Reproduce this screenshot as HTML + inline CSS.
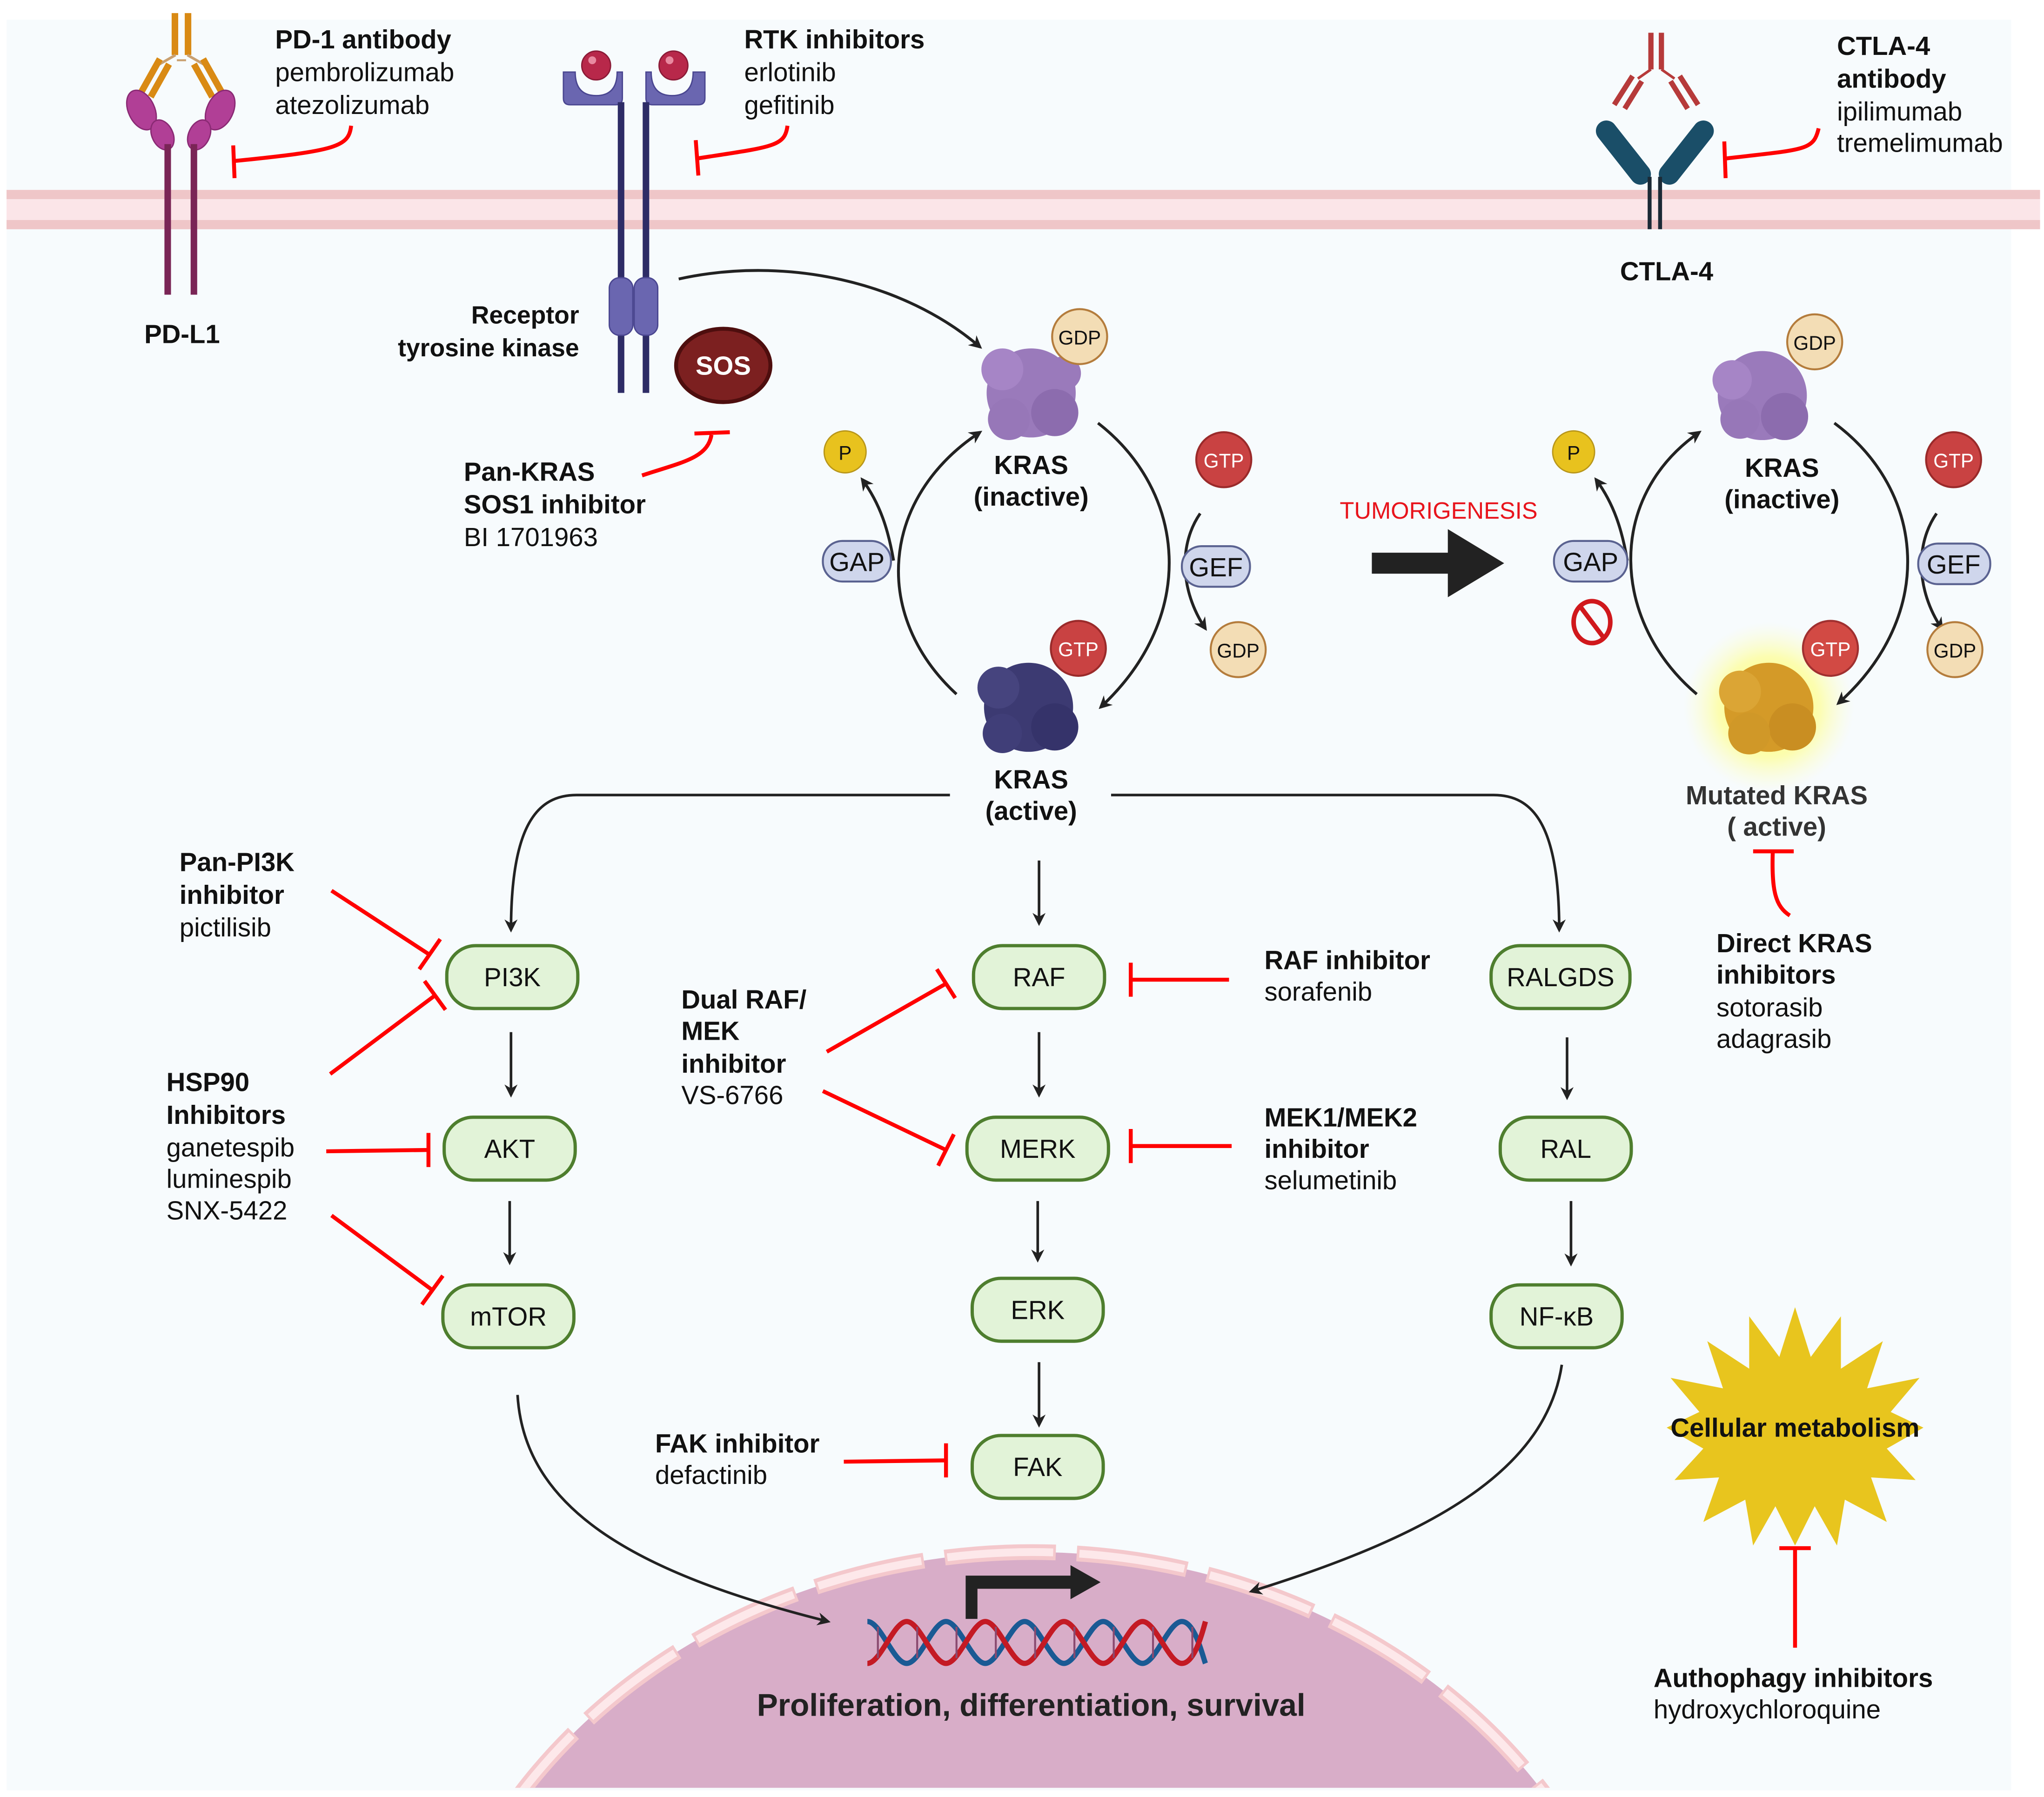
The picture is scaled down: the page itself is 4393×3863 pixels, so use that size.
<!DOCTYPE html>
<html><head><meta charset="utf-8"><style>
html,body{margin:0;padding:0;background:#fff;width:4393px;height:3863px;overflow:hidden;}
svg{display:block;}
text{font-family:"Liberation Sans",sans-serif;fill:#111;}
.b{font-weight:bold;}
</style></head><body>
<svg width="4393" height="3863" viewBox="0 0 1560 1372" preserveAspectRatio="none" xmlns="http://www.w3.org/2000/svg">
<defs>
<marker id="ah" markerWidth="10" markerHeight="10" refX="8" refY="5" orient="auto" markerUnits="userSpaceOnUse">
<path d="M0,0 L10,5 L0,10 L3,5 Z" fill="#222"/></marker>
<radialGradient id="glow"><stop offset="0" stop-color="#ffff40" stop-opacity="1"/><stop offset="0.6" stop-color="#ffff80" stop-opacity="0.6"/><stop offset="1" stop-color="#ffffc0" stop-opacity="0"/></radialGradient>
<clipPath id="nc"><rect x="0" y="0" width="1560" height="1365"/></clipPath>
</defs>
<rect x="0" y="0" width="1560" height="1372" fill="#fff"/>
<rect x="5" y="15" width="1530" height="1352" fill="#f7fbfd"/>
<rect x="5" y="145" width="1552" height="30" fill="#fbe5e8"/>
<rect x="5" y="145" width="1552" height="7" fill="#efc6c8"/>
<rect x="5" y="168" width="1552" height="7" fill="#efc6c8"/>

<g>
<rect x="131" y="10" width="5" height="32" fill="#d98a14"/><rect x="141" y="10" width="5" height="32" fill="#d98a14"/>
<line x1="134" y1="42" x2="120" y2="50" stroke="#c9a070" stroke-width="2"/><line x1="143" y1="42" x2="157" y2="50" stroke="#c9a070" stroke-width="2"/>
<line x1="135" y1="46" x2="142" y2="46" stroke="#c9a070" stroke-width="1.5"/>
<line x1="122" y1="45" x2="108" y2="70" stroke="#d98a14" stroke-width="5"/><line x1="129" y1="49" x2="115" y2="74" stroke="#d98a14" stroke-width="5"/>
<line x1="155" y1="45" x2="169" y2="70" stroke="#d98a14" stroke-width="5"/><line x1="148" y1="49" x2="162" y2="74" stroke="#d98a14" stroke-width="5"/>
<ellipse cx="108" cy="84" rx="10" ry="16" transform="rotate(-25 108 84)" fill="#b13f96" stroke="#8a2a74"/>
<ellipse cx="168" cy="84" rx="10" ry="16" transform="rotate(25 168 84)" fill="#b13f96" stroke="#8a2a74"/>
<ellipse cx="124" cy="103" rx="8" ry="12" transform="rotate(-25 124 103)" fill="#b13f96" stroke="#8a2a74"/>
<ellipse cx="152" cy="103" rx="8" ry="12" transform="rotate(25 152 103)" fill="#b13f96" stroke="#8a2a74"/>
<line x1="128" y1="110" x2="128" y2="225" stroke="#7a2556" stroke-width="5"/>
<line x1="148" y1="110" x2="148" y2="225" stroke="#7a2556" stroke-width="5"/>
</g>
<text x="139" y="262" text-anchor="middle" class="b" font-size="20">PD-L1</text>
<text x="210" y="37" class="b" font-size="20">PD-1 antibody</text>
<text x="210" y="62" font-size="20">pembrolizumab</text>
<text x="210" y="87" font-size="20">atezolizumab</text>
<path d="M268,96 C266,112 258,115 178,123" stroke="#f00" stroke-width="3" fill="none"/>
<line x1="178" y1="111" x2="179" y2="136" stroke="#f00" stroke-width="3"/>

<g>
<path d="M430,55 h9 q0,18 16,18 q16,0 16,-18 h4 v20 q0,5 -5,5 h-35 q-5,0 -5,-5 z" fill="#6a66b0" stroke="#4a4690"/>
<path d="M493,55 h4 q0,18 16,18 q16,0 16,-18 h9 v20 q0,5 -5,5 h-35 q-5,0 -5,-5 z" fill="#6a66b0" stroke="#4a4690"/>
<circle cx="455" cy="50" r="11" fill="#b8284a" stroke="#8a1a36"/><circle cx="452" cy="46" r="3" fill="#e88aa0"/>
<circle cx="514" cy="50" r="11" fill="#b8284a" stroke="#8a1a36"/><circle cx="511" cy="46" r="3" fill="#e88aa0"/>
<line x1="474" y1="78" x2="474" y2="300" stroke="#2e2c66" stroke-width="5"/>
<line x1="493" y1="78" x2="493" y2="300" stroke="#2e2c66" stroke-width="5"/>
<rect x="465" y="212" width="18" height="44" rx="8" fill="#6a66b0" stroke="#4a4690"/>
<rect x="484" y="212" width="18" height="44" rx="8" fill="#6a66b0" stroke="#4a4690"/>
</g>
<text x="442" y="247" text-anchor="end" class="b" font-size="19" fill="#222">Receptor</text>
<text x="442" y="272" text-anchor="end" class="b" font-size="19" fill="#222">tyrosine kinase</text>
<ellipse cx="552" cy="279" rx="36" ry="28" fill="#7c2020" stroke="#4e0e0e" stroke-width="3"/>
<text x="552" y="286" text-anchor="middle" class="b" font-size="20" style="fill:#fff">SOS</text>
<text x="568" y="37" class="b" font-size="20">RTK inhibitors</text>
<text x="568" y="62" font-size="20">erlotinib</text>
<text x="568" y="87" font-size="20">gefitinib</text>
<path d="M601,96 C599,112 590,112 532,121" stroke="#f00" stroke-width="3" fill="none"/>
<line x1="531" y1="107" x2="533" y2="134" stroke="#f00" stroke-width="3"/>
<path d="M490,363 C520,353 540,350 543,332" stroke="#f00" stroke-width="3" fill="none"/>
<line x1="530" y1="331" x2="557" y2="330" stroke="#f00" stroke-width="3"/>
<text x="354" y="367" class="b" font-size="20">Pan-KRAS</text>
<text x="354" y="392" class="b" font-size="20">SOS1 inhibitor</text>
<text x="354" y="417" font-size="20">BI 1701963</text>
<path d="M518,213 C600,195 690,215 748,265" stroke="#222" stroke-width="2.2" fill="none" marker-end="url(#ah)"/>

<g>
<circle cx="787" cy="300" r="34" fill="#9a7abb"/>
<circle cx="765" cy="282" r="16" fill="#a685c6"/><circle cx="805" cy="315" r="18" fill="#8c6cae"/><circle cx="770" cy="320" r="16" fill="#9777b8"/><circle cx="812" cy="285" r="13" fill="#9a7abb"/>
<circle cx="824" cy="257" r="21" fill="#f3ddb5" stroke="#b47c3c" stroke-width="1.5"/>
<text x="824" y="263" text-anchor="middle" font-size="15">GDP</text>
</g>
<text x="787" y="362" text-anchor="middle" class="b" font-size="20" fill="#222">KRAS</text>
<text x="787" y="386" text-anchor="middle" class="b" font-size="20" fill="#222">(inactive)</text>
<path d="M730,530 C665,470 672,380 748,330" stroke="#222" stroke-width="2.2" fill="none" marker-end="url(#ah)"/>
<path d="M838,323 C905,375 915,470 840,540" stroke="#222" stroke-width="2.2" fill="none" marker-end="url(#ah)"/>
<path d="M682,428 C678,405 672,385 658,366" stroke="#222" stroke-width="2.2" fill="none" marker-end="url(#ah)"/>
<circle cx="645" cy="345" r="16" fill="#e8c21e" stroke="#b8961a"/>
<text x="645" y="351" text-anchor="middle" font-size="15">P</text>
<rect x="628" y="413" width="52" height="31" rx="15" fill="#cfd6ec" stroke="#5a6290" stroke-width="1.5"/>
<text x="654" y="436" text-anchor="middle" font-size="20">GAP</text>
<path d="M916,392 C900,415 900,450 920,480" stroke="#222" stroke-width="2.2" fill="none" marker-end="url(#ah)"/>
<circle cx="934" cy="351" r="21" fill="#c94242" stroke="#9a2a2a" stroke-width="1.5"/>
<text x="934" y="357" text-anchor="middle" font-size="15" style="fill:#fff">GTP</text>
<rect x="902" y="417" width="52" height="31" rx="15" fill="#cfd6ec" stroke="#5a6290" stroke-width="1.5"/>
<text x="928" y="440" text-anchor="middle" font-size="20">GEF</text>
<circle cx="945" cy="496" r="21" fill="#f3ddb5" stroke="#b47c3c" stroke-width="1.5"/>
<text x="945" y="502" text-anchor="middle" font-size="15">GDP</text>
<g>
<circle cx="785" cy="540" r="34" fill="#3c3a72"/>
<circle cx="762" cy="525" r="16" fill="#46447e"/><circle cx="805" cy="555" r="18" fill="#35336a"/><circle cx="765" cy="560" r="15" fill="#403e78"/>
<circle cx="823" cy="495" r="21" fill="#c94242" stroke="#9a2a2a" stroke-width="1.5"/>
<text x="823" y="501" text-anchor="middle" font-size="15" style="fill:#fff">GTP</text>
</g>
<text x="787" y="602" text-anchor="middle" class="b" font-size="20" fill="#222">KRAS</text>
<text x="787" y="626" text-anchor="middle" class="b" font-size="20" fill="#222">(active)</text>

<text x="1098" y="396" text-anchor="middle" font-size="18" style="fill:#e8141c">TUMORIGENESIS</text>
<path d="M1047,422 h58 v-18 l43,26 l-43,26 v-18 h-58 z" fill="#222"/>

<circle cx="1350" cy="540" r="65" fill="url(#glow)"/>
<g>
<circle cx="1345" cy="302" r="34" fill="#9a7abb"/>
<circle cx="1322" cy="290" r="15" fill="#a685c6"/><circle cx="1362" cy="318" r="18" fill="#8c6cae"/><circle cx="1328" cy="320" r="15" fill="#9777b8"/>
<circle cx="1385" cy="261" r="21" fill="#f3ddb5" stroke="#b47c3c" stroke-width="1.5"/>
<text x="1385" y="267" text-anchor="middle" font-size="15">GDP</text>
</g>
<text x="1360" y="364" text-anchor="middle" class="b" font-size="20" fill="#222">KRAS</text>
<text x="1360" y="388" text-anchor="middle" class="b" font-size="20" fill="#222">(inactive)</text>
<path d="M1295,530 C1230,475 1225,380 1297,330" stroke="#222" stroke-width="2.2" fill="none" marker-end="url(#ah)"/>
<path d="M1400,323 C1470,375 1478,470 1403,537" stroke="#222" stroke-width="2.2" fill="none" marker-end="url(#ah)"/>
<path d="M1242,428 C1238,405 1232,385 1218,366" stroke="#222" stroke-width="2.2" fill="none" marker-end="url(#ah)"/>
<circle cx="1201" cy="345" r="16" fill="#e8c21e" stroke="#b8961a"/>
<text x="1201" y="351" text-anchor="middle" font-size="15">P</text>
<rect x="1186" y="413" width="56" height="31" rx="15" fill="#cfd6ec" stroke="#5a6290" stroke-width="1.5"/>
<text x="1214" y="436" text-anchor="middle" font-size="20">GAP</text>
<ellipse cx="1215" cy="475" rx="14" ry="16" fill="none" stroke="#d0181c" stroke-width="3.5"/>
<line x1="1206" y1="463" x2="1224" y2="487" stroke="#d0181c" stroke-width="3.5"/>
<path d="M1478,392 C1462,415 1462,450 1482,480" stroke="#222" stroke-width="2.2" fill="none" marker-end="url(#ah)"/>
<circle cx="1491" cy="351" r="21" fill="#c94242" stroke="#9a2a2a" stroke-width="1.5"/>
<text x="1491" y="357" text-anchor="middle" font-size="15" style="fill:#fff">GTP</text>
<rect x="1464" y="415" width="55" height="31" rx="15" fill="#cfd6ec" stroke="#5a6290" stroke-width="1.5"/>
<text x="1491" y="438" text-anchor="middle" font-size="20">GEF</text>
<circle cx="1492" cy="496" r="21" fill="#f3ddb5" stroke="#b47c3c" stroke-width="1.5"/>
<text x="1492" y="502" text-anchor="middle" font-size="15">GDP</text>
<g>
<circle cx="1350" cy="540" r="34" fill="#d49a28"/>
<circle cx="1328" cy="528" r="16" fill="#dba535"/><circle cx="1368" cy="555" r="18" fill="#c98e22"/><circle cx="1335" cy="560" r="16" fill="#d09828"/>
<circle cx="1397" cy="495" r="21" fill="#d24a44" stroke="#a03030" stroke-width="1.5"/>
<text x="1397" y="501" text-anchor="middle" font-size="15" style="fill:#fff">GTP</text>
</g>
<text x="1356" y="614" text-anchor="middle" class="b" font-size="20" style="fill:#333">Mutated KRAS</text>
<text x="1356" y="638" text-anchor="middle" class="b" font-size="20" style="fill:#333">( active)</text>
<line x1="1338" y1="650" x2="1369" y2="650" stroke="#f00" stroke-width="3"/>
<path d="M1353,650 C1352,680 1355,692 1366,699" stroke="#f00" stroke-width="3" fill="none"/>
<text x="1310" y="727" class="b" font-size="20">Direct KRAS</text>
<text x="1310" y="751" class="b" font-size="20">inhibitors</text>
<text x="1310" y="776" font-size="20">sotorasib</text>
<text x="1310" y="800" font-size="20">adagrasib</text>

<g>
<rect x="1258" y="25" width="4" height="28" fill="#b63a3a"/><rect x="1266" y="25" width="4" height="28" fill="#b63a3a"/>
<line x1="1260" y1="53" x2="1250" y2="60" stroke="#b63a3a" stroke-width="2"/><line x1="1268" y1="53" x2="1278" y2="60" stroke="#b63a3a" stroke-width="2"/>
<line x1="1246" y1="58" x2="1232" y2="80" stroke="#b63a3a" stroke-width="4"/><line x1="1253" y1="62" x2="1240" y2="83" stroke="#b63a3a" stroke-width="4"/>
<line x1="1282" y1="58" x2="1296" y2="80" stroke="#b63a3a" stroke-width="4"/><line x1="1275" y1="62" x2="1288" y2="83" stroke="#b63a3a" stroke-width="4"/>
<line x1="1226" y1="100" x2="1252" y2="133" stroke="#1a4e68" stroke-width="16" stroke-linecap="round"/>
<line x1="1300" y1="100" x2="1274" y2="133" stroke="#1a4e68" stroke-width="16" stroke-linecap="round"/>
<line x1="1259" y1="135" x2="1259" y2="175" stroke="#1b2a36" stroke-width="3"/>
<line x1="1267" y1="135" x2="1267" y2="175" stroke="#1b2a36" stroke-width="3"/>
</g>
<text x="1272" y="214" text-anchor="middle" class="b" font-size="20">CTLA-4</text>
<text x="1402" y="42" class="b" font-size="20">CTLA-4</text>
<text x="1402" y="67" class="b" font-size="20">antibody</text>
<text x="1402" y="92" font-size="20">ipilimumab</text>
<text x="1402" y="116" font-size="20">tremelimumab</text>
<path d="M1388,98 C1384,115 1378,114 1317,121" stroke="#f00" stroke-width="3" fill="none"/>
<line x1="1316" y1="108" x2="1317" y2="136" stroke="#f00" stroke-width="3"/>

<path d="M725,607 H440 C410,607 390,630 390,710" stroke="#222" stroke-width="2" fill="none" marker-end="url(#ah)"/>
<path d="M848,607 H1140 C1170,607 1190,630 1190,710" stroke="#222" stroke-width="2" fill="none" marker-end="url(#ah)"/>
<line x1="793" y1="657" x2="793" y2="705" stroke="#222" stroke-width="2" marker-end="url(#ah)"/>

<g fill="#e2f3d8" stroke="#4e7e2e" stroke-width="2.5">
<rect x="341" y="722" width="100" height="48" rx="22"/>
<rect x="339" y="853" width="100" height="48" rx="22"/>
<rect x="338" y="981" width="100" height="48" rx="22"/>
<rect x="743" y="722" width="100" height="48" rx="22"/>
<rect x="738" y="853" width="108" height="48" rx="22"/>
<rect x="742" y="976" width="100" height="48" rx="22"/>
<rect x="742" y="1096" width="100" height="48" rx="22"/>
<rect x="1138" y="722" width="106" height="48" rx="22"/>
<rect x="1145" y="853" width="100" height="48" rx="22"/>
<rect x="1138" y="981" width="100" height="48" rx="22"/>
</g>
<g font-size="20" text-anchor="middle">
<text x="391" y="753">PI3K</text><text x="389" y="884">AKT</text><text x="388" y="1012">mTOR</text>
<text x="793" y="753">RAF</text><text x="792" y="884">MERK</text><text x="792" y="1007">ERK</text><text x="792" y="1127">FAK</text>
<text x="1191" y="753">RALGDS</text><text x="1195" y="884">RAL</text><text x="1188" y="1012">NF-κB</text>
</g>
<g stroke="#222" stroke-width="2" marker-end="url(#ah)">
<line x1="390" y1="788" x2="390" y2="836"/><line x1="389" y1="917" x2="389" y2="964"/>
<line x1="793" y1="788" x2="793" y2="836"/><line x1="792" y1="917" x2="792" y2="962"/><line x1="793" y1="1040" x2="793" y2="1088"/>
<line x1="1196" y1="792" x2="1196" y2="838"/><line x1="1199" y1="917" x2="1199" y2="965"/>
</g>

<g stroke="#f00" stroke-width="3">
<line x1="253" y1="680" x2="328" y2="729"/><line x1="320" y1="740" x2="336" y2="717"/>
<line x1="252" y1="820" x2="332" y2="760"/><line x1="324" y1="749" x2="340" y2="771"/>
<line x1="249" y1="879" x2="326" y2="878"/><line x1="327" y1="865" x2="327" y2="891"/>
<line x1="253" y1="928" x2="330" y2="985"/><line x1="322" y1="996" x2="338" y2="974"/>
<line x1="631" y1="803" x2="722" y2="751"/><line x1="715" y1="740" x2="729" y2="762"/>
<line x1="628" y1="833" x2="722" y2="878"/><line x1="716" y1="890" x2="728" y2="866"/>
<line x1="938" y1="748" x2="863" y2="748"/><line x1="863" y1="735" x2="863" y2="761"/>
<line x1="940" y1="875" x2="863" y2="875"/><line x1="863" y1="862" x2="863" y2="888"/>
<line x1="644" y1="1116" x2="722" y2="1115"/><line x1="722" y1="1102" x2="722" y2="1128"/>
<line x1="1370" y1="1258" x2="1370" y2="1182"/><line x1="1358" y1="1182" x2="1382" y2="1182"/>
</g>
<text x="137" y="665" class="b" font-size="20">Pan-PI3K</text>
<text x="137" y="690" class="b" font-size="20">inhibitor</text>
<text x="137" y="715" font-size="20">pictilisib</text>
<text x="127" y="833" class="b" font-size="20">HSP90</text>
<text x="127" y="858" class="b" font-size="20">Inhibitors</text>
<text x="127" y="883" font-size="20">ganetespib</text>
<text x="127" y="907" font-size="20">luminespib</text>
<text x="127" y="931" font-size="20">SNX-5422</text>
<text x="520" y="770" class="b" font-size="20">Dual RAF/</text>
<text x="520" y="794" class="b" font-size="20">MEK</text>
<text x="520" y="819" class="b" font-size="20">inhibitor</text>
<text x="520" y="843" font-size="20">VS-6766</text>
<text x="965" y="740" class="b" font-size="20">RAF inhibitor</text>
<text x="965" y="764" font-size="20">sorafenib</text>
<text x="965" y="860" class="b" font-size="20">MEK1/MEK2</text>
<text x="965" y="884" class="b" font-size="20">inhibitor</text>
<text x="965" y="908" font-size="20">selumetinib</text>
<text x="500" y="1109" class="b" font-size="20">FAK inhibitor</text>
<text x="500" y="1133" font-size="20">defactinib</text>

<polygon fill="#e8c51e" points="1370,998 1382,1036 1405,1005 1405,1045 1437,1024 1425,1060 1465,1052 1443,1078 1468,1090 1440,1106 1462,1130 1428,1128 1440,1162 1408,1145 1402,1180 1385,1150 1370,1180 1355,1150 1338,1180 1332,1145 1300,1162 1312,1128 1278,1130 1300,1106 1272,1090 1297,1078 1275,1052 1315,1060 1303,1024 1335,1045 1335,1005 1358,1036"/>
<text x="1370" y="1097" text-anchor="middle" class="b" font-size="20">Cellular metabolism</text>
<text x="1262" y="1288" class="b" font-size="20">Authophagy inhibitors</text>
<text x="1262" y="1312" font-size="20">hydroxychloroquine</text>

<g clip-path="url(#nc)">
<ellipse cx="788" cy="1600" rx="470" ry="415" fill="#d8adc8"/>
<ellipse cx="788" cy="1600" rx="470" ry="415" fill="none" stroke="#f4c8cc" stroke-width="12" stroke-dasharray="85 16"/>
<ellipse cx="788" cy="1600" rx="470" ry="415" fill="none" stroke="#fde8ea" stroke-width="6" stroke-dasharray="81 20" stroke-dashoffset="-2"/>
</g>
<path d="M395,1065 C400,1150 480,1200 632,1238" stroke="#222" stroke-width="2" fill="none" marker-end="url(#ah)"/>
<path d="M1192,1042 C1180,1120 1100,1170 955,1215" stroke="#222" stroke-width="2" fill="none" marker-end="url(#ah)"/>
<g fill="none" stroke-width="4">
<path d="M662,1238 C672,1238 682,1270 692,1270 C702,1270 712,1238 722,1238 C732,1238 742,1270 752,1270 C762,1270 772,1238 782,1238 C792,1238 802,1270 812,1270 C822,1270 832,1238 842,1238 C852,1238 862,1270 872,1270 C882,1270 892,1238 902,1238 C912,1238 918,1265 920,1270" stroke="#1a5a94"/>
<path d="M662,1270 C672,1270 682,1238 692,1238 C702,1238 712,1270 722,1270 C732,1270 742,1238 752,1238 C762,1238 772,1270 782,1270 C792,1270 802,1238 812,1238 C822,1238 832,1270 842,1270 C852,1270 862,1238 872,1238 C882,1238 892,1270 902,1270 C912,1270 918,1245 920,1238" stroke="#c41a24"/>
</g>
<g stroke="#8a4a70" stroke-width="1.5">
<line x1="670" y1="1242" x2="670" y2="1266"/><line x1="700" y1="1242" x2="700" y2="1266"/><line x1="730" y1="1242" x2="730" y2="1266"/><line x1="760" y1="1242" x2="760" y2="1266"/><line x1="790" y1="1242" x2="790" y2="1266"/><line x1="820" y1="1242" x2="820" y2="1266"/><line x1="850" y1="1242" x2="850" y2="1266"/><line x1="880" y1="1242" x2="880" y2="1266"/><line x1="910" y1="1242" x2="910" y2="1266"/>
</g>
<path d="M737,1236 V1203 H817 V1195 L840,1208 L817,1221 V1213 H746 V1236 Z" fill="#222"/>
<text x="787" y="1310" text-anchor="middle" class="b" font-size="24" style="fill:#222">Proliferation, differentiation, survival</text>
</svg>
</body></html>
